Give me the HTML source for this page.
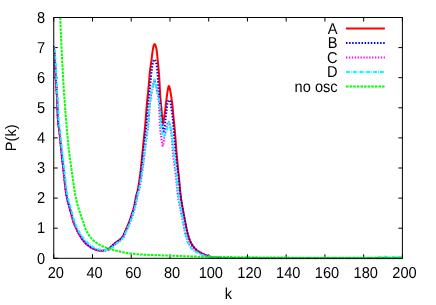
<!DOCTYPE html>
<html><head><meta charset="utf-8"><title>P(k)</title>
<style>
html,body{margin:0;padding:0;background:#fff;}
body{width:436px;height:305px;overflow:hidden;font-family:"Liberation Sans",sans-serif;}
svg{display:block;will-change:transform;}
</style></head><body>
<svg width="436" height="305" viewBox="0 0 436 305">
<rect width="436" height="305" fill="#fff"/>
<defs><clipPath id="c"><rect x="53.75" y="17.50" width="348.65" height="241.80"/></clipPath></defs>
<path d="M53.75,258.30v-4M53.75,17.50v4M92.49,258.30v-4M92.49,17.50v4M131.23,258.30v-4M131.23,17.50v4M169.97,258.30v-4M169.97,17.50v4M208.71,258.30v-4M208.71,17.50v4M247.44,258.30v-4M247.44,17.50v4M286.18,258.30v-4M286.18,17.50v4M324.92,258.30v-4M324.92,17.50v4M363.66,258.30v-4M363.66,17.50v4M402.40,258.30v-4M402.40,17.50v4M53.75,258.30h4M402.40,258.30h-4M53.75,228.20h4M402.40,228.20h-4M53.75,198.10h4M402.40,198.10h-4M53.75,168.00h4M402.40,168.00h-4M53.75,137.90h4M402.40,137.90h-4M53.75,107.80h4M402.40,107.80h-4M53.75,77.70h4M402.40,77.70h-4M53.75,47.60h4M402.40,47.60h-4M53.75,17.50h4M402.40,17.50h-4" stroke="#000" stroke-width="1" fill="none"/>
<g clip-path="url(#c)" fill="none" stroke-width="2" stroke-linejoin="round">
<path d="M53.75,46.30 L54.25,51.26 L54.75,57.81 L55.25,66.34 L55.75,77.19 L56.25,86.34 L56.75,92.88 L57.25,101.10 L57.75,116.95 L58.25,123.61 L58.75,126.92 L59.25,130.42 L59.75,134.92 L60.25,139.75 L60.75,144.71 L61.25,149.62 L61.75,154.34 L62.25,159.01 L62.75,163.64 L63.25,168.20 L63.75,172.68 L64.25,177.16 L64.75,181.83 L65.25,186.41 L65.75,190.62 L66.25,194.13 L66.75,196.83 L67.25,199.15 L67.75,201.19 L68.25,203.06 L68.75,204.82 L69.25,206.57 L69.75,208.39 L70.25,210.28 L70.75,212.20 L71.25,214.11 L71.75,215.98 L72.25,217.80 L72.75,219.53 L73.25,221.16 L73.75,222.65 L74.25,223.99 L74.75,225.24 L75.25,226.43 L75.75,227.57 L76.25,228.66 L76.75,229.71 L77.25,230.72 L77.75,231.68 L78.25,232.62 L78.75,233.52 L79.25,234.39 L79.75,235.24 L80.25,236.07 L80.75,236.88 L81.25,237.67 L81.75,238.42 L82.25,239.14 L82.75,239.83 L83.25,240.49 L83.75,241.10 L84.25,241.69 L84.75,242.25 L85.25,242.79 L85.75,243.31 L86.25,243.80 L86.75,244.25 L87.25,244.68 L87.75,245.08 L88.25,245.47 L88.75,245.84 L89.25,246.21 L89.75,246.57 L90.25,246.91 L90.75,247.24 L91.25,247.56 L91.75,247.86 L92.25,248.15 L92.75,248.41 L93.25,248.66 L93.75,248.89 L94.25,249.10 L94.75,249.31 L95.25,249.51 L95.75,249.69 L96.25,249.86 L96.75,250.02 L97.25,250.15 L97.75,250.26 L98.25,250.34 L98.75,250.42 L99.25,250.49 L99.75,250.56 L100.25,250.62 L100.75,250.66 L101.25,250.69 L101.75,250.70 L102.25,250.68 L102.75,250.65 L103.25,250.59 L103.75,250.52 L104.25,250.44 L104.75,250.35 L105.25,250.25 L105.75,250.11 L106.25,249.94 L106.75,249.74 L107.25,249.52 L107.75,249.28 L108.25,248.99 L108.75,248.67 L109.25,248.31 L109.75,247.91 L110.25,247.49 L110.75,247.05 L111.25,246.59 L111.75,246.12 L112.25,245.64 L112.75,245.16 L113.25,244.69 L113.75,244.23 L114.25,243.77 L114.75,243.34 L115.25,242.93 L115.75,242.55 L116.25,242.18 L116.75,241.82 L117.25,241.47 L117.75,241.12 L118.25,240.76 L118.75,240.39 L119.25,240.01 L119.75,239.60 L120.25,239.16 L120.75,238.70 L121.25,238.19 L121.75,237.64 L122.25,237.04 L122.75,236.29 L123.25,235.38 L123.75,234.36 L124.25,233.28 L124.75,232.21 L125.25,231.16 L125.75,230.07 L126.25,228.94 L126.75,227.79 L127.25,226.60 L127.75,225.39 L128.25,224.14 L128.75,222.84 L129.25,221.51 L129.75,220.14 L130.25,218.72 L130.75,217.25 L131.25,215.73 L131.75,214.17 L132.25,212.61 L132.75,211.07 L133.25,209.48 L133.75,207.74 L134.25,205.79 L134.75,203.32 L135.25,200.48 L135.75,197.69 L136.25,195.37 L136.75,193.55 L137.25,191.82 L137.75,189.77 L138.25,187.19 L138.75,184.22 L139.25,181.02 L139.75,177.52 L140.25,173.71 L140.75,169.57 L141.25,164.93 L141.75,159.85 L142.25,154.62 L142.75,149.50 L143.25,144.50 L143.75,139.50 L144.25,134.66 L144.75,129.80 L145.25,124.56 L145.75,118.38 L146.25,111.53 L146.75,105.13 L147.25,99.97 L147.75,95.40 L148.25,90.42 L148.75,84.86 L149.25,78.97 L149.75,72.98 L150.25,68.66 L150.75,65.16 L151.25,61.81 L151.75,58.01 L152.25,53.79 L152.75,50.10 L153.25,47.27 L153.75,45.38 L154.25,44.30 L154.75,44.06 L155.25,44.92 L155.75,46.17 L156.25,48.05 L156.75,50.76 L157.25,55.33 L157.75,60.49 L158.25,65.38 L158.75,70.79 L159.25,77.57 L159.75,87.06 L160.25,95.98 L160.75,101.70 L161.25,106.54 L161.75,112.24 L162.25,117.55 L162.75,123.01 L163.25,123.34 L163.75,119.26 L164.25,117.26 L164.75,113.88 L165.25,109.84 L165.75,105.41 L166.25,101.03 L166.75,97.05 L167.25,93.31 L167.75,90.08 L168.25,87.47 L168.75,86.03 L169.25,86.51 L169.75,88.24 L170.25,90.74 L170.75,93.50 L171.25,96.62 L171.75,100.06 L172.25,103.91 L172.75,108.52 L173.25,114.31 L173.75,119.65 L174.25,124.62 L174.75,129.77 L175.25,135.65 L175.75,142.29 L176.25,148.93 L176.75,154.87 L177.25,160.30 L177.75,165.52 L178.25,170.54 L178.75,175.50 L179.25,180.77 L179.75,186.28 L180.25,191.52 L180.75,196.00 L181.25,199.60 L181.75,202.74 L182.25,205.70 L182.75,208.62 L183.25,211.40 L183.75,214.11 L184.25,216.81 L184.75,219.55 L185.25,222.24 L185.75,224.80 L186.25,227.16 L186.75,229.45 L187.25,231.63 L187.75,233.66 L188.25,235.49 L188.75,237.12 L189.25,238.62 L189.75,239.97 L190.25,241.17 L190.75,242.23 L191.25,243.20 L191.75,244.09 L192.25,244.90 L192.75,245.65 L193.25,246.34 L193.75,246.99 L194.25,247.60 L194.75,248.18 L195.25,248.72 L195.75,249.22 L196.25,249.68 L196.75,250.11 L197.25,250.50 L197.75,250.87 L198.25,251.22 L198.75,251.55 L199.25,251.87 L199.75,252.17 L200.25,252.46 L200.75,252.74 L201.25,253.01 L201.75,253.28 L202.25,253.53 L202.75,253.78 L203.25,254.02 L203.75,254.25 L204.25,254.48 L204.75,254.69 L205.25,254.90 L205.75,255.10 L206.25,255.31 L206.75,255.51 L207.25,255.72 L207.75,255.92 L208.25,256.12 L208.75,256.31 L209.25,256.49 L209.75,256.66 L210.25,256.82 L210.75,256.95 L211.25,257.07 L211.75,257.16 L212.25,257.23 L212.75,257.30 L213.25,257.36 L213.75,257.42 L214.25,257.48 L214.75,257.53 L215.25,257.57 L215.75,257.62 L216.25,257.66 L216.75,257.69 L217.25,257.72 L217.75,257.75 L218.25,257.77 L218.75,257.79 L219.25,257.81 L219.75,257.82 L220.25,257.83 L220.75,257.85 L221.25,257.86 L221.75,257.87 L222.25,257.88 L222.75,257.89 L223.25,257.91 L223.75,257.92 L224.25,257.93 L224.75,257.94 L225.25,257.95 L225.75,257.96 L226.25,257.97 L226.75,257.98 L227.25,257.98 L227.75,257.99 L228.25,258.00 L228.75,258.01 L229.25,258.02 L229.75,258.02 L230.25,258.03 L230.75,258.04 L231.25,258.04 L231.75,258.05 L232.25,258.05 L232.75,258.06 L233.25,258.06 L233.75,258.07 L234.25,258.07 L234.75,258.08 L235.25,258.08 L235.75,258.08 L236.25,258.09 L236.75,258.09 L237.25,258.09 L237.75,258.09 L238.25,258.10 L238.75,258.10 L239.25,258.10 L239.75,258.10 L240.25,258.10 L240.75,258.10 L241.25,258.10 L241.75,258.10 L242.25,258.10 L242.75,258.10 L243.25,258.10 L243.75,258.11 L244.25,258.11 L244.75,258.11 L245.25,258.11 L245.75,258.11 L246.25,258.11 L246.75,258.11 L247.25,258.11 L247.75,258.11 L248.25,258.11 L248.75,258.11 L249.25,258.11 L249.75,258.11 L250.25,258.12 L250.75,258.12 L251.25,258.12 L251.75,258.12 L252.25,258.12 L252.75,258.12 L253.25,258.12 L253.75,258.12 L254.25,258.12 L254.75,258.12 L255.25,258.12 L255.75,258.12 L256.25,258.12 L256.75,258.12 L257.25,258.12 L257.75,258.13 L258.25,258.13 L258.75,258.13 L259.25,258.13 L259.75,258.13 L260.25,258.13 L260.75,258.13 L261.25,258.13 L261.75,258.13 L262.25,258.13 L262.75,258.13 L263.25,258.13 L263.75,258.13 L264.25,258.13 L264.75,258.13 L265.25,258.13 L265.75,258.13 L266.25,258.14 L266.75,258.14 L267.25,258.14 L267.75,258.14 L268.25,258.14 L268.75,258.14 L269.25,258.14 L269.75,258.14 L270.25,258.14 L270.75,258.14 L271.25,258.14 L271.75,258.14 L272.25,258.14 L272.75,258.14 L273.25,258.14 L273.75,258.14 L274.25,258.14 L274.75,258.14 L275.25,258.15 L275.75,258.15 L276.25,258.15 L276.75,258.15 L277.25,258.15 L277.75,258.15 L278.25,258.15 L278.75,258.15 L279.25,258.15 L279.75,258.15 L280.25,258.15 L280.75,258.15 L281.25,258.15 L281.75,258.15 L282.25,258.15 L282.75,258.15 L283.25,258.15 L283.75,258.15 L284.25,258.15 L284.75,258.15 L285.25,258.16 L285.75,258.16 L286.25,258.16 L286.75,258.16 L287.25,258.16 L287.75,258.16 L288.25,258.16 L288.75,258.16 L289.25,258.16 L289.75,258.16 L290.25,258.16 L290.75,258.16 L291.25,258.16 L291.75,258.16 L292.25,258.16 L292.75,258.16 L293.25,258.16 L293.75,258.16 L294.25,258.16 L294.75,258.16 L295.25,258.16 L295.75,258.16 L296.25,258.16 L296.75,258.17 L297.25,258.17 L297.75,258.17 L298.25,258.17 L298.75,258.17 L299.25,258.17 L299.75,258.17 L300.25,258.17 L300.75,258.17 L301.25,258.17 L301.75,258.17 L302.25,258.17 L302.75,258.17 L303.25,258.17 L303.75,258.17 L304.25,258.17 L304.75,258.17 L305.25,258.17 L305.75,258.17 L306.25,258.17 L306.75,258.17 L307.25,258.17 L307.75,258.17 L308.25,258.17 L308.75,258.17 L309.25,258.17 L309.75,258.17 L310.25,258.17 L310.75,258.18 L311.25,258.18 L311.75,258.18 L312.25,258.18 L312.75,258.18 L313.25,258.18 L313.75,258.18 L314.25,258.18 L314.75,258.18 L315.25,258.18 L315.75,258.18 L316.25,258.18 L316.75,258.18 L317.25,258.18 L317.75,258.18 L318.25,258.18 L318.75,258.18 L319.25,258.18 L319.75,258.18 L320.25,258.18 L320.75,258.18 L321.25,258.18 L321.75,258.18 L322.25,258.18 L322.75,258.18 L323.25,258.18 L323.75,258.18 L324.25,258.18 L324.75,258.18 L325.25,258.18 L325.75,258.18 L326.25,258.18 L326.75,258.18 L327.25,258.18 L327.75,258.18 L328.25,258.18 L328.75,258.19 L329.25,258.19 L329.75,258.19 L330.25,258.19 L330.75,258.19 L331.25,258.19 L331.75,258.19 L332.25,258.19 L332.75,258.19 L333.25,258.19 L333.75,258.19 L334.25,258.19 L334.75,258.19 L335.25,258.19 L335.75,258.19 L336.25,258.19 L336.75,258.19 L337.25,258.19 L337.75,258.19 L338.25,258.19 L338.75,258.19 L339.25,258.19 L339.75,258.19 L340.25,258.19 L340.75,258.19 L341.25,258.19 L341.75,258.19 L342.25,258.19 L342.75,258.19 L343.25,258.19 L343.75,258.19 L344.25,258.19 L344.75,258.19 L345.25,258.19 L345.75,258.19 L346.25,258.19 L346.75,258.19 L347.25,258.19 L347.75,258.19 L348.25,258.19 L348.75,258.19 L349.25,258.19 L349.75,258.19 L350.25,258.19 L350.75,258.19 L351.25,258.19 L351.75,258.19 L352.25,258.19 L352.75,258.19 L353.25,258.19 L353.75,258.19 L354.25,258.19 L354.75,258.19 L355.25,258.19 L355.75,258.19 L356.25,258.19 L356.75,258.19 L357.25,258.20 L357.75,258.20 L358.25,258.20 L358.75,258.20 L359.25,258.20 L359.75,258.20 L360.25,258.20 L360.75,258.20 L361.25,258.20 L361.75,258.20 L362.25,258.20 L362.75,258.20 L363.25,258.20 L363.75,258.20 L364.25,258.20 L364.75,258.20 L365.25,258.20 L365.75,258.20 L366.25,258.20 L366.75,258.20 L367.25,258.20 L367.75,258.20 L368.25,258.20 L368.75,258.20 L369.25,258.20 L369.75,258.20 L370.25,258.20 L370.75,258.20 L371.25,258.20 L371.75,258.20 L372.25,258.20 L372.75,258.20 L373.25,258.20 L373.75,258.20 L374.25,258.20 L374.75,258.20 L375.25,258.20 L375.75,258.20 L376.25,258.20 L376.75,258.20 L377.25,258.20 L377.75,258.20 L378.25,258.20 L378.75,258.20 L379.25,258.20 L379.75,258.20 L380.25,258.20 L380.75,258.20 L381.25,258.20 L381.75,258.20 L382.25,258.20 L382.75,258.20 L383.25,258.20 L383.75,258.20 L384.25,258.20 L384.75,258.20 L385.25,258.20 L385.75,258.20 L386.25,258.20 L386.75,258.20 L387.25,258.20 L387.75,258.20 L388.25,258.20 L388.75,258.20 L389.25,258.20 L389.75,258.20 L390.25,258.20 L390.75,258.20 L391.25,258.20 L391.75,258.20 L392.25,258.20 L392.75,258.20 L393.25,258.20 L393.75,258.20 L394.25,258.20 L394.75,258.20 L395.25,258.20 L395.75,258.20 L396.25,258.20 L396.75,258.20 L397.25,258.20 L397.75,258.20 L398.25,258.20 L398.75,258.20 L399.25,258.20 L399.75,258.20 L400.25,258.20 L400.75,258.20 L401.25,258.20 L401.75,258.20 L402.25,258.20 L402.40,258.20" stroke="#ff0000"/>
<path d="M53.75,46.30 L54.25,51.26 L54.75,57.81 L55.25,66.34 L55.75,77.19 L56.25,86.34 L56.75,92.88 L57.25,101.10 L57.75,116.95 L58.25,123.61 L58.75,126.92 L59.25,130.42 L59.75,134.92 L60.25,139.75 L60.75,144.71 L61.25,149.62 L61.75,154.34 L62.25,159.01 L62.75,163.64 L63.25,168.20 L63.75,172.68 L64.25,177.16 L64.75,181.83 L65.25,186.41 L65.75,190.62 L66.25,194.13 L66.75,196.83 L67.25,199.15 L67.75,201.19 L68.25,203.06 L68.75,204.82 L69.25,206.57 L69.75,208.39 L70.25,210.28 L70.75,212.20 L71.25,214.11 L71.75,215.98 L72.25,217.80 L72.75,219.53 L73.25,221.16 L73.75,222.65 L74.25,223.99 L74.75,225.24 L75.25,226.43 L75.75,227.57 L76.25,228.66 L76.75,229.71 L77.25,230.72 L77.75,231.68 L78.25,232.62 L78.75,233.52 L79.25,234.39 L79.75,235.24 L80.25,236.07 L80.75,236.88 L81.25,237.67 L81.75,238.42 L82.25,239.14 L82.75,239.83 L83.25,240.49 L83.75,241.10 L84.25,241.69 L84.75,242.25 L85.25,242.79 L85.75,243.31 L86.25,243.80 L86.75,244.25 L87.25,244.68 L87.75,245.08 L88.25,245.47 L88.75,245.84 L89.25,246.21 L89.75,246.57 L90.25,246.91 L90.75,247.24 L91.25,247.56 L91.75,247.86 L92.25,248.15 L92.75,248.41 L93.25,248.66 L93.75,248.89 L94.25,249.10 L94.75,249.31 L95.25,249.51 L95.75,249.69 L96.25,249.86 L96.75,250.02 L97.25,250.15 L97.75,250.26 L98.25,250.34 L98.75,250.42 L99.25,250.49 L99.75,250.56 L100.25,250.62 L100.75,250.66 L101.25,250.69 L101.75,250.70 L102.25,250.68 L102.75,250.65 L103.25,250.59 L103.75,250.52 L104.25,250.44 L104.75,250.35 L105.25,250.25 L105.75,250.11 L106.25,249.94 L106.75,249.74 L107.25,249.52 L107.75,249.28 L108.25,248.99 L108.75,248.67 L109.25,248.30 L109.75,247.91 L110.25,247.49 L110.75,247.04 L111.25,246.58 L111.75,246.11 L112.25,245.64 L112.75,245.16 L113.25,244.69 L113.75,244.22 L114.25,243.77 L114.75,243.34 L115.25,242.94 L115.75,242.55 L116.25,242.19 L116.75,241.83 L117.25,241.48 L117.75,241.14 L118.25,240.79 L118.75,240.42 L119.25,240.05 L119.75,239.65 L120.25,239.22 L120.75,238.77 L121.25,238.28 L121.75,237.74 L122.25,237.16 L122.75,236.47 L123.25,235.60 L123.75,234.62 L124.25,233.58 L124.75,232.52 L125.25,231.49 L125.75,230.43 L126.25,229.34 L126.75,228.22 L127.25,227.07 L127.75,225.88 L128.25,224.64 L128.75,223.36 L129.25,222.03 L129.75,220.68 L130.25,219.32 L130.75,217.93 L131.25,216.52 L131.75,215.06 L132.25,213.55 L132.75,212.01 L133.25,210.44 L133.75,208.79 L134.25,206.98 L134.75,204.92 L135.25,202.40 L135.75,199.70 L136.25,197.14 L136.75,194.99 L137.25,193.20 L137.75,191.42 L138.25,189.32 L138.75,186.84 L139.25,184.07 L139.75,181.07 L140.25,177.77 L140.75,174.18 L141.25,170.39 L141.75,166.38 L142.25,162.10 L142.75,157.65 L143.25,153.14 L143.75,148.65 L144.25,144.10 L144.75,139.55 L145.25,135.23 L145.75,130.97 L146.25,126.45 L146.75,121.31 L147.25,115.28 L147.75,109.08 L148.25,103.49 L148.75,98.78 L149.25,94.33 L149.75,89.55 L150.25,84.52 L150.75,79.43 L151.25,74.28 L151.75,69.89 L152.25,66.04 L152.75,63.31 L153.25,61.38 L153.75,60.23 L154.25,59.52 L154.75,59.52 L155.25,60.23 L155.75,61.36 L156.25,63.29 L156.75,66.16 L157.25,70.50 L157.75,76.34 L158.25,84.36 L158.75,92.58 L159.25,97.07 L159.75,101.45 L160.25,106.54 L160.75,111.40 L161.25,115.92 L161.75,120.01 L162.25,123.82 L162.75,126.84 L163.25,129.63 L163.75,131.38 L164.25,130.25 L164.75,126.37 L165.25,122.19 L165.75,117.55 L166.25,113.06 L166.75,108.67 L167.25,104.38 L167.75,102.01 L168.25,100.72 L168.75,100.10 L169.25,100.10 L169.75,100.72 L170.25,101.94 L170.75,103.98 L171.25,107.41 L171.75,110.97 L172.25,114.10 L172.75,118.48 L173.25,124.83 L173.75,131.41 L174.25,137.24 L174.75,142.93 L175.25,148.38 L175.75,153.50 L176.25,158.31 L176.75,162.84 L177.25,167.05 L177.75,170.87 L178.25,174.75 L178.75,179.20 L179.25,184.22 L179.75,189.32 L180.25,193.99 L180.75,197.80 L181.25,201.04 L181.75,204.00 L182.25,206.85 L182.75,209.55 L183.25,212.14 L183.75,214.70 L184.25,217.33 L184.75,220.05 L185.25,222.75 L185.75,225.29 L186.25,227.63 L186.75,229.89 L187.25,232.05 L187.75,234.04 L188.25,235.83 L188.75,237.43 L189.25,238.90 L189.75,240.22 L190.25,241.39 L190.75,242.43 L191.25,243.38 L191.75,244.26 L192.25,245.06 L192.75,245.79 L193.25,246.47 L193.75,247.11 L194.25,247.72 L194.75,248.29 L195.25,248.82 L195.75,249.32 L196.25,249.77 L196.75,250.19 L197.25,250.58 L197.75,250.95 L198.25,251.29 L198.75,251.62 L199.25,251.93 L199.75,252.23 L200.25,252.52 L200.75,252.80 L201.25,253.07 L201.75,253.33 L202.25,253.59 L202.75,253.83 L203.25,254.07 L203.75,254.30 L204.25,254.52 L204.75,254.74 L205.25,254.94 L205.75,255.14 L206.25,255.34 L206.75,255.55 L207.25,255.75 L207.75,255.95 L208.25,256.15 L208.75,256.33 L209.25,256.51 L209.75,256.67 L210.25,256.82 L210.75,256.96 L211.25,257.07 L211.75,257.16 L212.25,257.23 L212.75,257.30 L213.25,257.36 L213.75,257.42 L214.25,257.47 L214.75,257.53 L215.25,257.57 L215.75,257.62 L216.25,257.66 L216.75,257.69 L217.25,257.72 L217.75,257.75 L218.25,257.77 L218.75,257.79 L219.25,257.81 L219.75,257.82 L220.25,257.83 L220.75,257.85 L221.25,257.86 L221.75,257.87 L222.25,257.88 L222.75,257.89 L223.25,257.91 L223.75,257.92 L224.25,257.93 L224.75,257.94 L225.25,257.95 L225.75,257.96 L226.25,257.97 L226.75,257.98 L227.25,257.98 L227.75,257.99 L228.25,258.00 L228.75,258.01 L229.25,258.02 L229.75,258.02 L230.25,258.03 L230.75,258.04 L231.25,258.04 L231.75,258.05 L232.25,258.05 L232.75,258.06 L233.25,258.06 L233.75,258.07 L234.25,258.07 L234.75,258.08 L235.25,258.08 L235.75,258.08 L236.25,258.09 L236.75,258.09 L237.25,258.09 L237.75,258.09 L238.25,258.10 L238.75,258.10 L239.25,258.10 L239.75,258.10 L240.25,258.10 L240.75,258.10 L241.25,258.10 L241.75,258.10 L242.25,258.10 L242.75,258.10 L243.25,258.10 L243.75,258.11 L244.25,258.11 L244.75,258.11 L245.25,258.11 L245.75,258.11 L246.25,258.11 L246.75,258.11 L247.25,258.11 L247.75,258.11 L248.25,258.11 L248.75,258.11 L249.25,258.11 L249.75,258.11 L250.25,258.12 L250.75,258.12 L251.25,258.12 L251.75,258.12 L252.25,258.12 L252.75,258.12 L253.25,258.12 L253.75,258.12 L254.25,258.12 L254.75,258.12 L255.25,258.12 L255.75,258.12 L256.25,258.12 L256.75,258.12 L257.25,258.12 L257.75,258.13 L258.25,258.13 L258.75,258.13 L259.25,258.13 L259.75,258.13 L260.25,258.13 L260.75,258.13 L261.25,258.13 L261.75,258.13 L262.25,258.13 L262.75,258.13 L263.25,258.13 L263.75,258.13 L264.25,258.13 L264.75,258.13 L265.25,258.13 L265.75,258.13 L266.25,258.14 L266.75,258.14 L267.25,258.14 L267.75,258.14 L268.25,258.14 L268.75,258.14 L269.25,258.14 L269.75,258.14 L270.25,258.14 L270.75,258.14 L271.25,258.14 L271.75,258.14 L272.25,258.14 L272.75,258.14 L273.25,258.14 L273.75,258.14 L274.25,258.14 L274.75,258.14 L275.25,258.15 L275.75,258.15 L276.25,258.15 L276.75,258.15 L277.25,258.15 L277.75,258.15 L278.25,258.15 L278.75,258.15 L279.25,258.15 L279.75,258.15 L280.25,258.15 L280.75,258.15 L281.25,258.15 L281.75,258.15 L282.25,258.15 L282.75,258.15 L283.25,258.15 L283.75,258.15 L284.25,258.15 L284.75,258.15 L285.25,258.16 L285.75,258.16 L286.25,258.16 L286.75,258.16 L287.25,258.16 L287.75,258.16 L288.25,258.16 L288.75,258.16 L289.25,258.16 L289.75,258.16 L290.25,258.16 L290.75,258.16 L291.25,258.16 L291.75,258.16 L292.25,258.16 L292.75,258.16 L293.25,258.16 L293.75,258.16 L294.25,258.16 L294.75,258.16 L295.25,258.16 L295.75,258.16 L296.25,258.16 L296.75,258.17 L297.25,258.17 L297.75,258.17 L298.25,258.17 L298.75,258.17 L299.25,258.17 L299.75,258.17 L300.25,258.17 L300.75,258.17 L301.25,258.17 L301.75,258.17 L302.25,258.17 L302.75,258.17 L303.25,258.17 L303.75,258.17 L304.25,258.17 L304.75,258.17 L305.25,258.17 L305.75,258.17 L306.25,258.17 L306.75,258.17 L307.25,258.17 L307.75,258.17 L308.25,258.17 L308.75,258.17 L309.25,258.17 L309.75,258.17 L310.25,258.17 L310.75,258.18 L311.25,258.18 L311.75,258.18 L312.25,258.18 L312.75,258.18 L313.25,258.18 L313.75,258.18 L314.25,258.18 L314.75,258.18 L315.25,258.18 L315.75,258.18 L316.25,258.18 L316.75,258.18 L317.25,258.18 L317.75,258.18 L318.25,258.18 L318.75,258.18 L319.25,258.18 L319.75,258.18 L320.25,258.18 L320.75,258.18 L321.25,258.18 L321.75,258.18 L322.25,258.18 L322.75,258.18 L323.25,258.18 L323.75,258.18 L324.25,258.18 L324.75,258.18 L325.25,258.18 L325.75,258.18 L326.25,258.18 L326.75,258.18 L327.25,258.18 L327.75,258.18 L328.25,258.18 L328.75,258.19 L329.25,258.19 L329.75,258.19 L330.25,258.19 L330.75,258.19 L331.25,258.19 L331.75,258.19 L332.25,258.19 L332.75,258.19 L333.25,258.19 L333.75,258.19 L334.25,258.19 L334.75,258.19 L335.25,258.19 L335.75,258.19 L336.25,258.19 L336.75,258.19 L337.25,258.19 L337.75,258.19 L338.25,258.19 L338.75,258.19 L339.25,258.19 L339.75,258.19 L340.25,258.19 L340.75,258.19 L341.25,258.19 L341.75,258.19 L342.25,258.19 L342.75,258.19 L343.25,258.19 L343.75,258.19 L344.25,258.19 L344.75,258.19 L345.25,258.19 L345.75,258.19 L346.25,258.19 L346.75,258.19 L347.25,258.19 L347.75,258.19 L348.25,258.19 L348.75,258.19 L349.25,258.19 L349.75,258.19 L350.25,258.19 L350.75,258.19 L351.25,258.19 L351.75,258.19 L352.25,258.19 L352.75,258.19 L353.25,258.19 L353.75,258.19 L354.25,258.19 L354.75,258.19 L355.25,258.19 L355.75,258.19 L356.25,258.19 L356.75,258.19 L357.25,258.20 L357.75,258.20 L358.25,258.20 L358.75,258.20 L359.25,258.20 L359.75,258.20 L360.25,258.20 L360.75,258.20 L361.25,258.20 L361.75,258.20 L362.25,258.20 L362.75,258.20 L363.25,258.20 L363.75,258.20 L364.25,258.20 L364.75,258.20 L365.25,258.20 L365.75,258.20 L366.25,258.20 L366.75,258.20 L367.25,258.20 L367.75,258.20 L368.25,258.20 L368.75,258.20 L369.25,258.20 L369.75,258.20 L370.25,258.20 L370.75,258.20 L371.25,258.20 L371.75,258.20 L372.25,258.20 L372.75,258.20 L373.25,258.20 L373.75,258.20 L374.25,258.20 L374.75,258.20 L375.25,258.20 L375.75,258.20 L376.25,258.20 L376.75,258.20 L377.25,258.20 L377.75,258.20 L378.25,258.20 L378.75,258.20 L379.25,258.20 L379.75,258.20 L380.25,258.20 L380.75,258.20 L381.25,258.20 L381.75,258.20 L382.25,258.20 L382.75,258.20 L383.25,258.20 L383.75,258.20 L384.25,258.20 L384.75,258.20 L385.25,258.20 L385.75,258.20 L386.25,258.20 L386.75,258.20 L387.25,258.20 L387.75,258.20 L388.25,258.20 L388.75,258.20 L389.25,258.20 L389.75,258.20 L390.25,258.20 L390.75,258.20 L391.25,258.20 L391.75,258.20 L392.25,258.20 L392.75,258.20 L393.25,258.20 L393.75,258.20 L394.25,258.20 L394.75,258.20 L395.25,258.20 L395.75,258.20 L396.25,258.20 L396.75,258.20 L397.25,258.20 L397.75,258.20 L398.25,258.20 L398.75,258.20 L399.25,258.20 L399.75,258.20 L400.25,258.20 L400.75,258.20 L401.25,258.20 L401.75,258.20 L402.25,258.20 L402.40,258.20" stroke="#0000ff" stroke-dasharray="1.5 1.6"/>
<path d="M53.75,46.30 L54.25,51.26 L54.75,57.81 L55.25,66.34 L55.75,77.19 L56.25,86.34 L56.75,92.88 L57.25,101.10 L57.75,116.95 L58.25,123.61 L58.75,126.92 L59.25,130.42 L59.75,134.92 L60.25,139.75 L60.75,144.71 L61.25,149.62 L61.75,154.34 L62.25,159.01 L62.75,163.64 L63.25,168.20 L63.75,172.68 L64.25,177.16 L64.75,181.83 L65.25,186.41 L65.75,190.62 L66.25,194.13 L66.75,196.83 L67.25,199.15 L67.75,201.19 L68.25,203.06 L68.75,204.82 L69.25,206.57 L69.75,208.39 L70.25,210.28 L70.75,212.20 L71.25,214.11 L71.75,215.98 L72.25,217.80 L72.75,219.53 L73.25,221.16 L73.75,222.65 L74.25,223.99 L74.75,225.24 L75.25,226.43 L75.75,227.57 L76.25,228.66 L76.75,229.71 L77.25,230.72 L77.75,231.68 L78.25,232.62 L78.75,233.52 L79.25,234.39 L79.75,235.24 L80.25,236.07 L80.75,236.88 L81.25,237.67 L81.75,238.42 L82.25,239.14 L82.75,239.83 L83.25,240.49 L83.75,241.10 L84.25,241.69 L84.75,242.25 L85.25,242.79 L85.75,243.31 L86.25,243.80 L86.75,244.25 L87.25,244.68 L87.75,245.08 L88.25,245.47 L88.75,245.84 L89.25,246.21 L89.75,246.57 L90.25,246.91 L90.75,247.24 L91.25,247.56 L91.75,247.86 L92.25,248.15 L92.75,248.41 L93.25,248.66 L93.75,248.89 L94.25,249.10 L94.75,249.31 L95.25,249.51 L95.75,249.69 L96.25,249.86 L96.75,250.02 L97.25,250.15 L97.75,250.26 L98.25,250.34 L98.75,250.42 L99.25,250.49 L99.75,250.56 L100.25,250.62 L100.75,250.66 L101.25,250.69 L101.75,250.70 L102.25,250.69 L102.75,250.68 L103.25,250.66 L103.75,250.64 L104.25,250.61 L104.75,250.57 L105.25,250.53 L105.75,250.49 L106.25,250.42 L106.75,250.32 L107.25,250.21 L107.75,250.07 L108.25,249.92 L108.75,249.73 L109.25,249.49 L109.75,249.20 L110.25,248.86 L110.75,248.48 L111.25,248.07 L111.75,247.63 L112.25,247.18 L112.75,246.71 L113.25,246.23 L113.75,245.75 L114.25,245.28 L114.75,244.82 L115.25,244.38 L115.75,243.96 L116.25,243.57 L116.75,243.20 L117.25,242.84 L117.75,242.50 L118.25,242.16 L118.75,241.82 L119.25,241.47 L119.75,241.11 L120.25,240.73 L120.75,240.33 L121.25,239.90 L121.75,239.43 L122.25,238.92 L122.75,238.37 L123.25,237.76 L123.75,237.01 L124.25,236.04 L124.75,234.92 L125.25,233.73 L125.75,232.56 L126.25,231.46 L126.75,230.38 L127.25,229.30 L127.75,228.20 L128.25,227.06 L128.75,225.88 L129.25,224.64 L129.75,223.36 L130.25,222.03 L130.75,220.68 L131.25,219.32 L131.75,217.93 L132.25,216.52 L132.75,215.06 L133.25,213.55 L133.75,212.01 L134.25,210.44 L134.75,208.79 L135.25,206.98 L135.75,204.91 L136.25,202.38 L136.75,199.66 L137.25,197.11 L137.75,195.03 L138.25,193.35 L138.75,191.72 L139.25,189.78 L139.75,187.38 L140.25,184.63 L140.75,181.70 L141.25,178.60 L141.75,175.28 L142.25,171.80 L142.75,168.16 L143.25,164.31 L143.75,160.30 L144.25,156.19 L144.75,152.05 L145.25,147.92 L145.75,143.68 L146.25,139.61 L146.75,136.04 L147.25,132.74 L147.75,129.32 L148.25,125.35 L148.75,120.10 L149.25,113.24 L149.75,106.62 L150.25,101.83 L150.75,97.98 L151.25,94.66 L151.75,91.72 L152.25,89.20 L152.75,86.93 L153.25,84.53 L153.75,81.98 L154.25,80.26 L154.75,80.54 L155.25,82.36 L155.75,84.65 L156.25,86.98 L156.75,89.31 L157.25,91.74 L157.75,94.23 L158.25,96.98 L158.75,100.91 L159.25,110.68 L159.75,122.60 L160.25,129.47 L160.75,133.98 L161.25,137.42 L161.75,140.53 L162.25,143.27 L162.75,145.83 L163.25,145.23 L163.75,141.69 L164.25,138.26 L164.75,135.15 L165.25,132.55 L165.75,130.22 L166.25,128.02 L166.75,125.99 L167.25,124.36 L167.75,122.86 L168.25,121.77 L168.75,121.69 L169.25,122.33 L169.75,123.41 L170.25,125.84 L170.75,128.97 L171.25,132.83 L171.75,137.49 L172.25,143.33 L172.75,151.37 L173.25,156.44 L173.75,160.27 L174.25,163.84 L174.75,167.73 L175.25,171.55 L175.75,175.57 L176.25,180.21 L176.75,185.37 L177.25,190.47 L177.75,194.89 L178.25,198.28 L178.75,201.12 L179.25,203.69 L179.75,206.26 L180.25,208.81 L180.75,211.28 L181.25,213.74 L181.75,216.26 L182.25,218.91 L182.75,221.62 L183.25,224.26 L183.75,226.72 L184.25,229.11 L184.75,231.44 L185.25,233.60 L185.75,235.49 L186.25,237.10 L186.75,238.52 L187.25,239.81 L187.75,240.96 L188.25,242.02 L188.75,243.00 L189.25,243.91 L189.75,244.74 L190.25,245.51 L190.75,246.20 L191.25,246.85 L191.75,247.46 L192.25,248.04 L192.75,248.57 L193.25,249.07 L193.75,249.53 L194.25,249.94 L194.75,250.32 L195.25,250.67 L195.75,250.99 L196.25,251.30 L196.75,251.59 L197.25,251.87 L197.75,252.14 L198.25,252.41 L198.75,252.68 L199.25,252.95 L199.75,253.22 L200.25,253.48 L200.75,253.74 L201.25,253.99 L201.75,254.24 L202.25,254.46 L202.75,254.68 L203.25,254.87 L203.75,255.05 L204.25,255.22 L204.75,255.39 L205.25,255.56 L205.75,255.72 L206.25,255.88 L206.75,256.03 L207.25,256.18 L207.75,256.32 L208.25,256.45 L208.75,256.58 L209.25,256.70 L209.75,256.81 L210.25,256.91 L210.75,257.01 L211.25,257.09 L211.75,257.17 L212.25,257.23 L212.75,257.29 L213.25,257.35 L213.75,257.41 L214.25,257.46 L214.75,257.52 L215.25,257.56 L215.75,257.61 L216.25,257.65 L216.75,257.69 L217.25,257.72 L217.75,257.75 L218.25,257.77 L218.75,257.79 L219.25,257.81 L219.75,257.82 L220.25,257.83 L220.75,257.85 L221.25,257.86 L221.75,257.87 L222.25,257.88 L222.75,257.89 L223.25,257.91 L223.75,257.92 L224.25,257.93 L224.75,257.94 L225.25,257.95 L225.75,257.96 L226.25,257.97 L226.75,257.98 L227.25,257.98 L227.75,257.99 L228.25,258.00 L228.75,258.01 L229.25,258.02 L229.75,258.02 L230.25,258.03 L230.75,258.04 L231.25,258.04 L231.75,258.05 L232.25,258.05 L232.75,258.06 L233.25,258.06 L233.75,258.07 L234.25,258.07 L234.75,258.08 L235.25,258.08 L235.75,258.08 L236.25,258.09 L236.75,258.09 L237.25,258.09 L237.75,258.09 L238.25,258.10 L238.75,258.10 L239.25,258.10 L239.75,258.10 L240.25,258.10 L240.75,258.10 L241.25,258.10 L241.75,258.10 L242.25,258.10 L242.75,258.10 L243.25,258.10 L243.75,258.11 L244.25,258.11 L244.75,258.11 L245.25,258.11 L245.75,258.11 L246.25,258.11 L246.75,258.11 L247.25,258.11 L247.75,258.11 L248.25,258.11 L248.75,258.11 L249.25,258.11 L249.75,258.11 L250.25,258.12 L250.75,258.12 L251.25,258.12 L251.75,258.12 L252.25,258.12 L252.75,258.12 L253.25,258.12 L253.75,258.12 L254.25,258.12 L254.75,258.12 L255.25,258.12 L255.75,258.12 L256.25,258.12 L256.75,258.12 L257.25,258.12 L257.75,258.13 L258.25,258.13 L258.75,258.13 L259.25,258.13 L259.75,258.13 L260.25,258.13 L260.75,258.13 L261.25,258.13 L261.75,258.13 L262.25,258.13 L262.75,258.13 L263.25,258.13 L263.75,258.13 L264.25,258.13 L264.75,258.13 L265.25,258.13 L265.75,258.13 L266.25,258.14 L266.75,258.14 L267.25,258.14 L267.75,258.14 L268.25,258.14 L268.75,258.14 L269.25,258.14 L269.75,258.14 L270.25,258.14 L270.75,258.14 L271.25,258.14 L271.75,258.14 L272.25,258.14 L272.75,258.14 L273.25,258.14 L273.75,258.14 L274.25,258.14 L274.75,258.14 L275.25,258.15 L275.75,258.15 L276.25,258.15 L276.75,258.15 L277.25,258.15 L277.75,258.15 L278.25,258.15 L278.75,258.15 L279.25,258.15 L279.75,258.15 L280.25,258.15 L280.75,258.15 L281.25,258.15 L281.75,258.15 L282.25,258.15 L282.75,258.15 L283.25,258.15 L283.75,258.15 L284.25,258.15 L284.75,258.15 L285.25,258.16 L285.75,258.16 L286.25,258.16 L286.75,258.16 L287.25,258.16 L287.75,258.16 L288.25,258.16 L288.75,258.16 L289.25,258.16 L289.75,258.16 L290.25,258.16 L290.75,258.16 L291.25,258.16 L291.75,258.16 L292.25,258.16 L292.75,258.16 L293.25,258.16 L293.75,258.16 L294.25,258.16 L294.75,258.16 L295.25,258.16 L295.75,258.16 L296.25,258.16 L296.75,258.17 L297.25,258.17 L297.75,258.17 L298.25,258.17 L298.75,258.17 L299.25,258.17 L299.75,258.17 L300.25,258.17 L300.75,258.17 L301.25,258.17 L301.75,258.17 L302.25,258.17 L302.75,258.17 L303.25,258.17 L303.75,258.17 L304.25,258.17 L304.75,258.17 L305.25,258.17 L305.75,258.17 L306.25,258.17 L306.75,258.17 L307.25,258.17 L307.75,258.17 L308.25,258.17 L308.75,258.17 L309.25,258.17 L309.75,258.17 L310.25,258.17 L310.75,258.18 L311.25,258.18 L311.75,258.18 L312.25,258.18 L312.75,258.18 L313.25,258.18 L313.75,258.18 L314.25,258.18 L314.75,258.18 L315.25,258.18 L315.75,258.18 L316.25,258.18 L316.75,258.18 L317.25,258.18 L317.75,258.18 L318.25,258.18 L318.75,258.18 L319.25,258.18 L319.75,258.18 L320.25,258.18 L320.75,258.18 L321.25,258.18 L321.75,258.18 L322.25,258.18 L322.75,258.18 L323.25,258.18 L323.75,258.18 L324.25,258.18 L324.75,258.18 L325.25,258.18 L325.75,258.18 L326.25,258.18 L326.75,258.18 L327.25,258.18 L327.75,258.18 L328.25,258.18 L328.75,258.19 L329.25,258.19 L329.75,258.19 L330.25,258.19 L330.75,258.19 L331.25,258.19 L331.75,258.19 L332.25,258.19 L332.75,258.19 L333.25,258.19 L333.75,258.19 L334.25,258.19 L334.75,258.19 L335.25,258.19 L335.75,258.19 L336.25,258.19 L336.75,258.19 L337.25,258.19 L337.75,258.19 L338.25,258.19 L338.75,258.19 L339.25,258.19 L339.75,258.19 L340.25,258.19 L340.75,258.19 L341.25,258.19 L341.75,258.19 L342.25,258.19 L342.75,258.19 L343.25,258.19 L343.75,258.19 L344.25,258.19 L344.75,258.19 L345.25,258.19 L345.75,258.19 L346.25,258.19 L346.75,258.19 L347.25,258.19 L347.75,258.19 L348.25,258.19 L348.75,258.19 L349.25,258.19 L349.75,258.19 L350.25,258.19 L350.75,258.19 L351.25,258.19 L351.75,258.19 L352.25,258.19 L352.75,258.19 L353.25,258.19 L353.75,258.19 L354.25,258.19 L354.75,258.19 L355.25,258.19 L355.75,258.19 L356.25,258.19 L356.75,258.19 L357.25,258.20 L357.75,258.20 L358.25,258.20 L358.75,258.20 L359.25,258.20 L359.75,258.20 L360.25,258.20 L360.75,258.20 L361.25,258.20 L361.75,258.20 L362.25,258.20 L362.75,258.20 L363.25,258.20 L363.75,258.20 L364.25,258.20 L364.75,258.20 L365.25,258.20 L365.75,258.20 L366.25,258.20 L366.75,258.20 L367.25,258.20 L367.75,258.20 L368.25,258.20 L368.75,258.20 L369.25,258.20 L369.75,258.20 L370.25,258.20 L370.75,258.20 L371.25,258.20 L371.75,258.20 L372.25,258.20 L372.75,258.20 L373.25,258.20 L373.75,258.20 L374.25,258.20 L374.75,258.20 L375.25,258.20 L375.75,258.20 L376.25,258.20 L376.75,258.20 L377.25,258.20 L377.75,258.20 L378.25,258.20 L378.75,258.20 L379.25,258.20 L379.75,258.20 L380.25,258.20 L380.75,258.20 L381.25,258.20 L381.75,258.20 L382.25,258.20 L382.75,258.20 L383.25,258.20 L383.75,258.20 L384.25,258.20 L384.75,258.20 L385.25,258.20 L385.75,258.20 L386.25,258.20 L386.75,258.20 L387.25,258.20 L387.75,258.20 L388.25,258.20 L388.75,258.20 L389.25,258.20 L389.75,258.20 L390.25,258.20 L390.75,258.20 L391.25,258.20 L391.75,258.20 L392.25,258.20 L392.75,258.20 L393.25,258.20 L393.75,258.20 L394.25,258.20 L394.75,258.20 L395.25,258.20 L395.75,258.20 L396.25,258.20 L396.75,258.20 L397.25,258.20 L397.75,258.20 L398.25,258.20 L398.75,258.20 L399.25,258.20 L399.75,258.20 L400.25,258.20 L400.75,258.20 L401.25,258.20 L401.75,258.20 L402.25,258.20 L402.40,258.20" stroke="#ff00ff" stroke-dasharray="1.35 1.55"/>
<path d="M53.75,45.90 L54.25,47.74 L54.75,51.74 L55.25,57.08 L55.75,63.85 L56.25,74.70 L56.75,84.83 L57.25,91.99 L57.75,99.17 L58.25,109.48 L58.75,119.36 L59.25,124.33 L59.75,127.98 L60.25,132.26 L60.75,136.99 L61.25,141.89 L61.75,146.79 L62.25,151.54 L62.75,156.10 L63.25,160.58 L63.75,164.99 L64.25,169.32 L64.75,173.58 L65.25,177.92 L65.75,182.41 L66.25,186.79 L66.75,190.80 L67.25,194.16 L67.75,196.77 L68.25,199.03 L68.75,201.03 L69.25,202.85 L69.75,204.56 L70.25,206.26 L70.75,208.02 L71.25,209.86 L71.75,211.73 L72.25,213.61 L72.75,215.47 L73.25,217.27 L73.75,219.00 L74.25,220.63 L74.75,222.13 L75.25,223.48 L75.75,224.69 L76.25,225.86 L76.75,226.97 L77.25,228.03 L77.75,229.05 L78.25,230.02 L78.75,230.96 L79.25,231.86 L79.75,232.72 L80.25,233.55 L80.75,234.35 L81.25,235.13 L81.75,235.88 L82.25,236.62 L82.75,237.31 L83.25,237.97 L83.75,238.60 L84.25,239.19 L84.75,239.77 L85.25,240.33 L85.75,240.87 L86.25,241.40 L86.75,241.92 L87.25,242.42 L87.75,242.91 L88.25,243.36 L88.75,243.80 L89.25,244.20 L89.75,244.60 L90.25,244.99 L90.75,245.37 L91.25,245.73 L91.75,246.09 L92.25,246.44 L92.75,246.76 L93.25,247.07 L93.75,247.36 L94.25,247.64 L94.75,247.88 L95.25,248.11 L95.75,248.33 L96.25,248.54 L96.75,248.73 L97.25,248.91 L97.75,249.08 L98.25,249.22 L98.75,249.35 L99.25,249.45 L99.75,249.55 L100.25,249.64 L100.75,249.72 L101.25,249.80 L101.75,249.85 L102.25,249.89 L102.75,249.92 L103.25,249.94 L103.75,249.96 L104.25,249.98 L104.75,249.99 L105.25,250.00 L105.75,250.00 L106.25,249.98 L106.75,249.93 L107.25,249.85 L107.75,249.75 L108.25,249.63 L108.75,249.50 L109.25,249.31 L109.75,249.05 L110.25,248.74 L110.75,248.39 L111.25,248.00 L111.75,247.58 L112.25,247.14 L112.75,246.68 L113.25,246.21 L113.75,245.74 L114.25,245.27 L114.75,244.81 L115.25,244.37 L115.75,243.96 L116.25,243.57 L116.75,243.20 L117.25,242.85 L117.75,242.50 L118.25,242.16 L118.75,241.81 L119.25,241.45 L119.75,241.08 L120.25,240.69 L120.75,240.28 L121.25,239.83 L121.75,239.35 L122.25,238.83 L122.75,238.26 L123.25,237.63 L123.75,236.83 L124.25,235.82 L124.75,234.68 L125.25,233.49 L125.75,232.33 L126.25,231.24 L126.75,230.17 L127.25,229.08 L127.75,227.97 L128.25,226.83 L128.75,225.64 L129.25,224.40 L129.75,223.11 L130.25,221.78 L130.75,220.42 L131.25,219.01 L131.75,217.55 L132.25,216.04 L132.75,214.49 L133.25,212.92 L133.75,211.36 L134.25,209.77 L134.75,208.08 L135.25,206.20 L135.75,203.95 L136.25,201.33 L136.75,198.64 L137.25,196.22 L137.75,194.25 L138.25,192.51 L138.75,190.64 L139.25,188.35 L139.75,185.70 L140.25,182.86 L140.75,179.96 L141.25,176.92 L141.75,173.73 L142.25,170.35 L142.75,166.71 L143.25,162.80 L143.75,158.71 L144.25,154.55 L144.75,150.41 L145.25,146.22 L145.75,142.01 L146.25,138.13 L146.75,134.71 L147.25,131.41 L147.75,127.82 L148.25,123.52 L148.75,117.45 L149.25,110.45 L149.75,104.47 L150.25,100.21 L150.75,96.58 L151.25,93.44 L151.75,90.68 L152.25,88.36 L152.75,86.17 L153.25,83.68 L153.75,81.18 L154.25,79.54 L154.75,79.80 L155.25,81.59 L155.75,84.23 L156.25,86.66 L156.75,88.96 L157.25,91.28 L157.75,93.69 L158.25,96.16 L158.75,98.80 L159.25,101.53 L159.75,105.41 L160.25,111.84 L160.75,120.26 L161.25,126.24 L161.75,129.58 L162.25,132.28 L162.75,135.24 L163.25,136.98 L163.75,136.65 L164.25,135.84 L164.75,135.01 L165.25,134.02 L165.75,133.00 L166.25,131.94 L166.75,130.48 L167.25,128.19 L167.75,125.79 L168.25,123.48 L168.75,121.88 L169.25,122.52 L169.75,124.24 L170.25,126.74 L170.75,129.43 L171.25,132.39 L171.75,135.66 L172.25,139.50 L172.75,143.61 L173.25,147.24 L173.75,150.82 L174.25,155.02 L174.75,159.75 L175.25,164.54 L175.75,169.10 L176.25,173.65 L176.75,178.48 L177.25,183.83 L177.75,189.19 L178.25,193.99 L178.75,197.75 L179.25,200.84 L179.75,203.60 L180.25,206.27 L180.75,208.84 L181.25,211.28 L181.75,213.71 L182.25,216.26 L182.75,219.03 L183.25,221.89 L183.75,224.68 L184.25,227.27 L184.75,229.74 L185.25,232.12 L185.75,234.43 L186.25,236.68 L186.75,239.01 L187.25,241.03 L187.75,242.44 L188.25,243.59 L188.75,244.58 L189.25,245.44 L189.75,246.23 L190.25,246.97 L190.75,247.66 L191.25,248.30 L191.75,248.88 L192.25,249.40 L192.75,249.86 L193.25,250.26 L193.75,250.62 L194.25,250.96 L194.75,251.27 L195.25,251.56 L195.75,251.83 L196.25,252.10 L196.75,252.36 L197.25,252.63 L197.75,252.89 L198.25,253.15 L198.75,253.41 L199.25,253.67 L199.75,253.91 L200.25,254.15 L200.75,254.37 L201.25,254.58 L201.75,254.78 L202.25,254.95 L202.75,255.11 L203.25,255.26 L203.75,255.41 L204.25,255.56 L204.75,255.70 L205.25,255.84 L205.75,255.97 L206.25,256.10 L206.75,256.23 L207.25,256.35 L207.75,256.46 L208.25,256.57 L208.75,256.67 L209.25,256.77 L209.75,256.86 L210.25,256.95 L210.75,257.03 L211.25,257.10 L211.75,257.17 L212.25,257.23 L212.75,257.29 L213.25,257.35 L213.75,257.40 L214.25,257.46 L214.75,257.51 L215.25,257.56 L215.75,257.60 L216.25,257.65 L216.75,257.68 L217.25,257.72 L217.75,257.75 L218.25,257.77 L218.75,257.79 L219.25,257.81 L219.75,257.82 L220.25,257.83 L220.75,257.85 L221.25,257.86 L221.75,257.87 L222.25,257.88 L222.75,257.90 L223.25,257.91 L223.75,257.92 L224.25,257.93 L224.75,257.94 L225.25,257.95 L225.75,257.96 L226.25,257.97 L226.75,257.98 L227.25,257.99 L227.75,258.00 L228.25,258.00 L228.75,258.01 L229.25,258.02 L229.75,258.03 L230.25,258.03 L230.75,258.04 L231.25,258.05 L231.75,258.05 L232.25,258.06 L232.75,258.06 L233.25,258.07 L233.75,258.07 L234.25,258.08 L234.75,258.08 L235.25,258.08 L235.75,258.09 L236.25,258.09 L236.75,258.09 L237.25,258.09 L237.75,258.10 L238.25,258.10 L238.75,258.10 L239.25,258.10 L239.75,258.10 L240.25,258.10 L240.75,258.10 L241.25,258.10 L241.75,258.10 L242.25,258.10 L242.75,258.10 L243.25,258.10 L243.75,258.10 L244.25,258.10 L244.75,258.10 L245.25,258.10 L245.75,258.10 L246.25,258.10 L246.75,258.10 L247.25,258.10 L247.75,258.10 L248.25,258.10 L248.75,258.10 L249.25,258.10 L249.75,258.10 L250.25,258.10 L250.75,258.10 L251.25,258.10 L251.75,258.10 L252.25,258.10 L252.75,258.10 L253.25,258.10 L253.75,258.10 L254.25,258.10 L254.75,258.10 L255.25,258.10 L255.75,258.10 L256.25,258.10 L256.75,258.10 L257.25,258.10 L257.75,258.10 L258.25,258.10 L258.75,258.10 L259.25,258.10 L259.75,258.10 L260.25,258.10 L260.75,258.10 L261.25,258.10 L261.75,258.10 L262.25,258.10 L262.75,258.10 L263.25,258.10 L263.75,258.10 L264.25,258.10 L264.75,258.10 L265.25,258.10 L265.75,258.10 L266.25,258.10 L266.75,258.10 L267.25,258.10 L267.75,258.10 L268.25,258.10 L268.75,258.10 L269.25,258.10 L269.75,258.10 L270.25,258.10 L270.75,258.10 L271.25,258.10 L271.75,258.10 L272.25,258.10 L272.75,258.10 L273.25,258.10 L273.75,258.10 L274.25,258.10 L274.75,258.10 L275.25,258.10 L275.75,258.10 L276.25,258.10 L276.75,258.10 L277.25,258.10 L277.75,258.10 L278.25,258.10 L278.75,258.10 L279.25,258.10 L279.75,258.10 L280.25,258.10 L280.75,258.10 L281.25,258.10 L281.75,258.10 L282.25,258.10 L282.75,258.10 L283.25,258.10 L283.75,258.10 L284.25,258.10 L284.75,258.10 L285.25,258.10 L285.75,258.10 L286.25,258.10 L286.75,258.10 L287.25,258.10 L287.75,258.10 L288.25,258.10 L288.75,258.10 L289.25,258.10 L289.75,258.10 L290.25,258.10 L290.75,258.10 L291.25,258.10 L291.75,258.10 L292.25,258.10 L292.75,258.10 L293.25,258.10 L293.75,258.10 L294.25,258.10 L294.75,258.10 L295.25,258.10 L295.75,258.10 L296.25,258.10 L296.75,258.10 L297.25,258.10 L297.75,258.10 L298.25,258.10 L298.75,258.10 L299.25,258.10 L299.75,258.10 L300.25,258.10 L300.75,258.10 L301.25,258.10 L301.75,258.10 L302.25,258.10 L302.75,258.10 L303.25,258.10 L303.75,258.10 L304.25,258.10 L304.75,258.10 L305.25,258.10 L305.75,258.10 L306.25,258.10 L306.75,258.10 L307.25,258.10 L307.75,258.10 L308.25,258.10 L308.75,258.10 L309.25,258.10 L309.75,258.10 L310.25,258.10 L310.75,258.10 L311.25,258.10 L311.75,258.10 L312.25,258.10 L312.75,258.10 L313.25,258.10 L313.75,258.10 L314.25,258.10 L314.75,258.10 L315.25,258.10 L315.75,258.10 L316.25,258.10 L316.75,258.10 L317.25,258.10 L317.75,258.10 L318.25,258.10 L318.75,258.10 L319.25,258.10 L319.75,258.10 L320.25,258.10 L320.75,258.10 L321.25,258.10 L321.75,258.10 L322.25,258.10 L322.75,258.10 L323.25,258.10 L323.75,258.10 L324.25,258.10 L324.75,258.10 L325.25,258.10 L325.75,258.10 L326.25,258.10 L326.75,258.10 L327.25,258.10 L327.75,258.10 L328.25,258.10 L328.75,258.10 L329.25,258.10 L329.75,258.10 L330.25,258.10 L330.75,258.10 L331.25,258.10 L331.75,258.10 L332.25,258.10 L332.75,258.10 L333.25,258.10 L333.75,258.10 L334.25,258.10 L334.75,258.10 L335.25,258.10 L335.75,258.10 L336.25,258.10 L336.75,258.10 L337.25,258.10 L337.75,258.10 L338.25,258.10 L338.75,258.10 L339.25,258.10 L339.75,258.10 L340.25,258.10 L340.75,258.10 L341.25,258.10 L341.75,258.10 L342.25,258.10 L342.75,258.10 L343.25,258.10 L343.75,258.10 L344.25,258.10 L344.75,258.10 L345.25,258.10 L345.75,258.10 L346.25,258.10 L346.75,258.10 L347.25,258.10 L347.75,258.10 L348.25,258.10 L348.75,258.10 L349.25,258.10 L349.75,258.10 L350.25,258.10 L350.75,258.10 L351.25,258.10 L351.75,258.10 L352.25,258.10 L352.75,258.10 L353.25,258.10 L353.75,258.10 L354.25,258.10 L354.75,258.10 L355.25,258.10 L355.75,258.10 L356.25,258.10 L356.75,258.10 L357.25,258.10 L357.75,258.10 L358.25,258.10 L358.75,258.10 L359.25,258.10 L359.75,258.10 L360.25,258.10 L360.75,258.10 L361.25,258.10 L361.75,258.10 L362.25,258.10 L362.75,258.10 L363.25,258.10 L363.75,258.10 L364.25,258.10 L364.75,258.10 L365.25,258.10 L365.75,258.10 L366.25,258.10 L366.75,258.10 L367.25,258.10 L367.75,258.10 L368.25,258.10 L368.75,258.10 L369.25,258.10 L369.75,258.10 L370.25,258.10 L370.75,258.10 L371.25,258.10 L371.75,258.10 L372.25,258.10 L372.75,258.09 L373.25,258.07 L373.75,258.04 L374.25,258.01 L374.75,257.96 L375.25,257.92 L375.75,257.87 L376.25,257.81 L376.75,257.75 L377.25,257.69 L377.75,257.63 L378.25,257.56 L378.75,257.47 L379.25,257.35 L379.75,257.23 L380.25,257.11 L380.75,257.00 L381.25,256.92 L381.75,256.88 L382.25,256.85 L382.75,256.82 L383.25,256.79 L383.75,256.77 L384.25,256.76 L384.75,256.75 L385.25,256.76 L385.75,256.81 L386.25,256.91 L386.75,257.03 L387.25,257.15 L387.75,257.26 L388.25,257.34 L388.75,257.43 L389.25,257.52 L389.75,257.60 L390.25,257.66 L390.75,257.70 L391.25,257.69 L391.75,257.62 L392.25,257.50 L392.75,257.35 L393.25,257.20 L393.75,257.08 L394.25,257.01 L394.75,257.00 L395.25,257.01 L395.75,257.02 L396.25,257.03 L396.75,257.05 L397.25,257.07 L397.75,257.09 L398.25,257.11 L398.75,257.14 L399.25,257.19 L399.75,257.24 L400.25,257.29 L400.75,257.36 L401.25,257.42 L401.75,257.50 L402.25,257.58 L402.40,257.60" stroke="#00ffff" stroke-dasharray="3.8 1.1 0.8 1.1" stroke-dashoffset="3.46"/>
<path d="M60.20,17.50 L60.70,29.07 L61.20,40.19 L61.70,51.09 L62.20,61.31 L62.70,70.47 L63.20,79.09 L63.70,87.22 L64.20,94.89 L64.70,102.12 L65.20,108.87 L65.70,115.19 L66.20,121.18 L66.70,127.04 L67.20,132.76 L67.70,138.25 L68.20,143.43 L68.70,148.22 L69.20,152.54 L69.70,156.52 L70.20,160.22 L70.70,163.74 L71.20,167.16 L71.70,170.55 L72.20,174.00 L72.70,177.59 L73.20,181.26 L73.70,184.90 L74.20,188.40 L74.70,191.63 L75.20,194.49 L75.70,196.95 L76.20,199.19 L76.70,201.27 L77.20,203.21 L77.70,205.05 L78.20,206.81 L78.70,208.54 L79.20,210.22 L79.70,211.82 L80.20,213.36 L80.70,214.86 L81.20,216.32 L81.70,217.74 L82.20,219.15 L82.70,220.56 L83.20,221.97 L83.70,223.41 L84.20,224.88 L84.70,226.34 L85.20,227.75 L85.70,229.09 L86.20,230.32 L86.70,231.42 L87.20,232.36 L87.70,233.23 L88.20,234.06 L88.70,234.84 L89.20,235.57 L89.70,236.27 L90.20,236.93 L90.70,237.54 L91.20,238.13 L91.70,238.68 L92.20,239.20 L92.70,239.69 L93.20,240.17 L93.70,240.62 L94.20,241.05 L94.70,241.47 L95.20,241.86 L95.70,242.24 L96.20,242.61 L96.70,242.96 L97.20,243.30 L97.70,243.62 L98.20,243.93 L98.70,244.23 L99.20,244.51 L99.70,244.79 L100.20,245.06 L100.70,245.32 L101.20,245.58 L101.70,245.82 L102.20,246.06 L102.70,246.29 L103.20,246.52 L103.70,246.74 L104.20,246.95 L104.70,247.15 L105.20,247.35 L105.70,247.55 L106.20,247.74 L106.70,247.92 L107.20,248.10 L107.70,248.27 L108.20,248.44 L108.70,248.61 L109.20,248.77 L109.70,248.93 L110.20,249.08 L110.70,249.23 L111.20,249.38 L111.70,249.52 L112.20,249.66 L112.70,249.80 L113.20,249.94 L113.70,250.07 L114.20,250.20 L114.70,250.33 L115.20,250.46 L115.70,250.58 L116.20,250.70 L116.70,250.83 L117.20,250.95 L117.70,251.07 L118.20,251.19 L118.70,251.31 L119.20,251.43 L119.70,251.55 L120.20,251.67 L120.70,251.79 L121.20,251.90 L121.70,252.02 L122.20,252.13 L122.70,252.24 L123.20,252.35 L123.70,252.45 L124.20,252.55 L124.70,252.65 L125.20,252.75 L125.70,252.84 L126.20,252.92 L126.70,253.01 L127.20,253.08 L127.70,253.16 L128.20,253.23 L128.70,253.29 L129.20,253.36 L129.70,253.42 L130.20,253.48 L130.70,253.54 L131.20,253.60 L131.70,253.66 L132.20,253.71 L132.70,253.77 L133.20,253.82 L133.70,253.87 L134.20,253.92 L134.70,253.97 L135.20,254.02 L135.70,254.06 L136.20,254.11 L136.70,254.15 L137.20,254.19 L137.70,254.23 L138.20,254.27 L138.70,254.31 L139.20,254.34 L139.70,254.38 L140.20,254.41 L140.70,254.45 L141.20,254.48 L141.70,254.51 L142.20,254.54 L142.70,254.57 L143.20,254.60 L143.70,254.63 L144.20,254.66 L144.70,254.69 L145.20,254.71 L145.70,254.74 L146.20,254.77 L146.70,254.79 L147.20,254.82 L147.70,254.84 L148.20,254.86 L148.70,254.89 L149.20,254.91 L149.70,254.93 L150.20,254.96 L150.70,254.98 L151.20,255.00 L151.70,255.02 L152.20,255.04 L152.70,255.06 L153.20,255.09 L153.70,255.11 L154.20,255.13 L154.70,255.15 L155.20,255.17 L155.70,255.19 L156.20,255.21 L156.70,255.23 L157.20,255.25 L157.70,255.27 L158.20,255.29 L158.70,255.31 L159.20,255.32 L159.70,255.34 L160.20,255.36 L160.70,255.38 L161.20,255.40 L161.70,255.41 L162.20,255.43 L162.70,255.45 L163.20,255.46 L163.70,255.48 L164.20,255.50 L164.70,255.51 L165.20,255.53 L165.70,255.55 L166.20,255.56 L166.70,255.58 L167.20,255.59 L167.70,255.61 L168.20,255.63 L168.70,255.64 L169.20,255.66 L169.70,255.67 L170.20,255.69 L170.70,255.70 L171.20,255.72 L171.70,255.73 L172.20,255.75 L172.70,255.76 L173.20,255.78 L173.70,255.80 L174.20,255.81 L174.70,255.83 L175.20,255.84 L175.70,255.86 L176.20,255.87 L176.70,255.89 L177.20,255.91 L177.70,255.92 L178.20,255.94 L178.70,255.96 L179.20,255.97 L179.70,255.99 L180.20,256.01 L180.70,256.02 L181.20,256.04 L181.70,256.06 L182.20,256.08 L182.70,256.10 L183.20,256.12 L183.70,256.14 L184.20,256.16 L184.70,256.18 L185.20,256.20 L185.70,256.22 L186.20,256.24 L186.70,256.26 L187.20,256.28 L187.70,256.30 L188.20,256.32 L188.70,256.34 L189.20,256.36 L189.70,256.38 L190.20,256.39 L190.70,256.41 L191.20,256.43 L191.70,256.45 L192.20,256.47 L192.70,256.49 L193.20,256.51 L193.70,256.52 L194.20,256.54 L194.70,256.56 L195.20,256.57 L195.70,256.59 L196.20,256.61 L196.70,256.62 L197.20,256.63 L197.70,256.65 L198.20,256.66 L198.70,256.67 L199.20,256.68 L199.70,256.69 L200.20,256.70 L200.70,256.71 L201.20,256.72 L201.70,256.73 L202.20,256.74 L202.70,256.75 L203.20,256.76 L203.70,256.77 L204.20,256.78 L204.70,256.79 L205.20,256.79 L205.70,256.80 L206.20,256.81 L206.70,256.82 L207.20,256.83 L207.70,256.83 L208.20,256.84 L208.70,256.85 L209.20,256.86 L209.70,256.87 L210.20,256.87 L210.70,256.88 L211.20,256.89 L211.70,256.89 L212.20,256.90 L212.70,256.91 L213.20,256.91 L213.70,256.92 L214.20,256.93 L214.70,256.93 L215.20,256.94 L215.70,256.95 L216.20,256.95 L216.70,256.96 L217.20,256.97 L217.70,256.97 L218.20,256.98 L218.70,256.98 L219.20,256.99 L219.70,257.00 L220.20,257.00 L220.70,257.01 L221.20,257.01 L221.70,257.02 L222.20,257.02 L222.70,257.03 L223.20,257.04 L223.70,257.04 L224.20,257.05 L224.70,257.05 L225.20,257.06 L225.70,257.06 L226.20,257.07 L226.70,257.07 L227.20,257.08 L227.70,257.08 L228.20,257.09 L228.70,257.09 L229.20,257.10 L229.70,257.10 L230.20,257.11 L230.70,257.11 L231.20,257.12 L231.70,257.12 L232.20,257.13 L232.70,257.13 L233.20,257.14 L233.70,257.14 L234.20,257.15 L234.70,257.15 L235.20,257.15 L235.70,257.16 L236.20,257.16 L236.70,257.17 L237.20,257.17 L237.70,257.18 L238.20,257.18 L238.70,257.19 L239.20,257.19 L239.70,257.20 L240.20,257.20 L240.70,257.21 L241.20,257.21 L241.70,257.22 L242.20,257.22 L242.70,257.23 L243.20,257.23 L243.70,257.24 L244.20,257.24 L244.70,257.25 L245.20,257.25 L245.70,257.26 L246.20,257.26 L246.70,257.27 L247.20,257.27 L247.70,257.28 L248.20,257.28 L248.70,257.29 L249.20,257.29 L249.70,257.30 L250.20,257.30 L250.70,257.31 L251.20,257.31 L251.70,257.32 L252.20,257.32 L252.70,257.33 L253.20,257.33 L253.70,257.34 L254.20,257.34 L254.70,257.35 L255.20,257.35 L255.70,257.36 L256.20,257.36 L256.70,257.37 L257.20,257.37 L257.70,257.38 L258.20,257.38 L258.70,257.39 L259.20,257.39 L259.70,257.40 L260.20,257.40 L260.70,257.41 L261.20,257.41 L261.70,257.42 L262.20,257.42 L262.70,257.43 L263.20,257.43 L263.70,257.44 L264.20,257.44 L264.70,257.45 L265.20,257.45 L265.70,257.46 L266.20,257.46 L266.70,257.47 L267.20,257.47 L267.70,257.48 L268.20,257.48 L268.70,257.48 L269.20,257.49 L269.70,257.49 L270.20,257.50 L270.70,257.50 L271.20,257.51 L271.70,257.51 L272.20,257.52 L272.70,257.52 L273.20,257.52 L273.70,257.53 L274.20,257.53 L274.70,257.54 L275.20,257.54 L275.70,257.54 L276.20,257.55 L276.70,257.55 L277.20,257.56 L277.70,257.56 L278.20,257.56 L278.70,257.57 L279.20,257.57 L279.70,257.57 L280.20,257.58 L280.70,257.58 L281.20,257.58 L281.70,257.59 L282.20,257.59 L282.70,257.59 L283.20,257.60 L283.70,257.60 L284.20,257.60 L284.70,257.60 L285.20,257.61 L285.70,257.61 L286.20,257.61 L286.70,257.62 L287.20,257.62 L287.70,257.62 L288.20,257.62 L288.70,257.62 L289.20,257.63 L289.70,257.63 L290.20,257.63 L290.70,257.63 L291.20,257.63 L291.70,257.64 L292.20,257.64 L292.70,257.64 L293.20,257.64 L293.70,257.64 L294.20,257.64 L294.70,257.64 L295.20,257.65 L295.70,257.65 L296.20,257.65 L296.70,257.65 L297.20,257.65 L297.70,257.65 L298.20,257.65 L298.70,257.65 L299.20,257.65 L299.70,257.65 L300.20,257.65 L300.70,257.65 L301.20,257.65 L301.70,257.65 L302.20,257.65 L302.70,257.65 L303.20,257.65 L303.70,257.65 L304.20,257.65 L304.70,257.65 L305.20,257.65 L305.70,257.65 L306.20,257.65 L306.70,257.65 L307.20,257.65 L307.70,257.65 L308.20,257.65 L308.70,257.65 L309.20,257.65 L309.70,257.65 L310.20,257.65 L310.70,257.65 L311.20,257.65 L311.70,257.65 L312.20,257.65 L312.70,257.65 L313.20,257.65 L313.70,257.65 L314.20,257.65 L314.70,257.65 L315.20,257.65 L315.70,257.65 L316.20,257.65 L316.70,257.65 L317.20,257.65 L317.70,257.65 L318.20,257.65 L318.70,257.65 L319.20,257.65 L319.70,257.65 L320.20,257.65 L320.70,257.65 L321.20,257.65 L321.70,257.65 L322.20,257.65 L322.70,257.65 L323.20,257.65 L323.70,257.65 L324.20,257.65 L324.70,257.65 L325.20,257.65 L325.70,257.65 L326.20,257.65 L326.70,257.65 L327.20,257.65 L327.70,257.65 L328.20,257.65 L328.70,257.65 L329.20,257.65 L329.70,257.65 L330.20,257.65 L330.70,257.65 L331.20,257.65 L331.70,257.65 L332.20,257.65 L332.70,257.65 L333.20,257.65 L333.70,257.65 L334.20,257.65 L334.70,257.65 L335.20,257.65 L335.70,257.65 L336.20,257.65 L336.70,257.65 L337.20,257.65 L337.70,257.65 L338.20,257.65 L338.70,257.65 L339.20,257.65 L339.70,257.65 L340.20,257.65 L340.70,257.65 L341.20,257.65 L341.70,257.65 L342.20,257.65 L342.70,257.65 L343.20,257.65 L343.70,257.65 L344.20,257.65 L344.70,257.65 L345.20,257.65 L345.70,257.65 L346.20,257.65 L346.70,257.65 L347.20,257.65 L347.70,257.65 L348.20,257.65 L348.70,257.65 L349.20,257.65 L349.70,257.65 L350.20,257.65 L350.70,257.65 L351.20,257.65 L351.70,257.65 L352.20,257.65 L352.70,257.65 L353.20,257.65 L353.70,257.65 L354.20,257.65 L354.70,257.65 L355.20,257.65 L355.70,257.65 L356.20,257.65 L356.70,257.65 L357.20,257.65 L357.70,257.65 L358.20,257.65 L358.70,257.65 L359.20,257.65 L359.70,257.65 L360.20,257.65 L360.70,257.65 L361.20,257.65 L361.70,257.65 L362.20,257.65 L362.70,257.65 L363.20,257.65 L363.70,257.65 L364.20,257.65 L364.70,257.65 L365.20,257.65 L365.70,257.65 L366.20,257.65 L366.70,257.65 L367.20,257.65 L367.70,257.65 L368.20,257.65 L368.70,257.65 L369.20,257.65 L369.70,257.65 L370.20,257.65 L370.70,257.65 L371.20,257.65 L371.70,257.65 L372.20,257.65 L372.70,257.65 L373.20,257.65 L373.70,257.65 L374.20,257.65 L374.70,257.65 L375.20,257.65 L375.70,257.65 L376.20,257.65 L376.70,257.65 L377.20,257.65 L377.70,257.65 L378.20,257.65 L378.70,257.65 L379.20,257.65 L379.70,257.65 L380.20,257.65 L380.70,257.65 L381.20,257.65 L381.70,257.65 L382.20,257.65 L382.70,257.65 L383.20,257.65 L383.70,257.65 L384.20,257.65 L384.70,257.65 L385.20,257.65 L385.70,257.65 L386.20,257.65 L386.70,257.65 L387.20,257.65 L387.70,257.65 L388.20,257.65 L388.70,257.65 L389.20,257.65 L389.70,257.65 L390.20,257.65 L390.70,257.65 L391.20,257.65 L391.70,257.65 L392.20,257.65 L392.70,257.65 L393.20,257.65 L393.70,257.65 L394.20,257.65 L394.70,257.65 L395.20,257.65 L395.70,257.65 L396.20,257.65 L396.70,257.65 L397.20,257.65 L397.70,257.65 L398.20,257.65 L398.70,257.65 L399.20,257.65 L399.70,257.65 L400.20,257.65 L400.70,257.65 L401.20,257.65 L401.70,257.65 L402.20,257.65 L402.40,257.65" stroke="#00ff00" stroke-dasharray="2.6 1.0"/>
</g>
<path d="M346.0,28.45H384.9" stroke="#ff0000" stroke-width="2" fill="none"/>
<path d="M346.0,42.95H384.9" stroke="#0000ff" stroke-width="2" fill="none" stroke-dasharray="1.5 1.6"/>
<path d="M346.0,57.55H384.9" stroke="#ff00ff" stroke-width="2" fill="none" stroke-dasharray="1.35 1.55"/>
<path d="M346.0,72.1H384.9" stroke="#00ffff" stroke-width="2" fill="none" stroke-dasharray="3.8 1.1 0.8 1.1"/>
<path d="M346.0,86.5H384.9" stroke="#00ff00" stroke-width="2" fill="none" stroke-dasharray="2.6 1.0"/>
<rect x="53.75" y="17.5" width="348.65" height="240.80" fill="none" stroke="#000" stroke-width="1"/>
<g font-family="'Liberation Sans', sans-serif" font-size="14.6" fill="#000" text-rendering="geometricPrecision">
<text transform="translate(337.60,33.70) scale(1,1.08)" text-anchor="end">A</text>
<text transform="translate(337.60,47.60) scale(1,1.08)" text-anchor="end">B</text>
<text transform="translate(337.60,63.00) scale(1,1.08)" text-anchor="end">C</text>
<text transform="translate(337.60,76.90) scale(1,1.08)" text-anchor="end">D</text>
<text transform="translate(337.60,92.20) scale(1,1.08)" text-anchor="end">no osc</text>
<text transform="translate(45.20,263.50) scale(1,1.08)" text-anchor="end">0</text>
<text transform="translate(45.20,233.40) scale(1,1.08)" text-anchor="end">1</text>
<text transform="translate(45.20,203.30) scale(1,1.08)" text-anchor="end">2</text>
<text transform="translate(45.20,173.20) scale(1,1.08)" text-anchor="end">3</text>
<text transform="translate(45.20,143.10) scale(1,1.08)" text-anchor="end">4</text>
<text transform="translate(45.20,113.00) scale(1,1.08)" text-anchor="end">5</text>
<text transform="translate(45.20,82.90) scale(1,1.08)" text-anchor="end">6</text>
<text transform="translate(45.20,52.80) scale(1,1.08)" text-anchor="end">7</text>
<text transform="translate(45.20,22.70) scale(1,1.08)" text-anchor="end">8</text>
<text transform="translate(55.85,278.20) scale(1,1.08)" text-anchor="middle">20</text>
<text transform="translate(94.59,278.20) scale(1,1.08)" text-anchor="middle">40</text>
<text transform="translate(133.33,278.20) scale(1,1.08)" text-anchor="middle">60</text>
<text transform="translate(172.07,278.20) scale(1,1.08)" text-anchor="middle">80</text>
<text transform="translate(210.81,278.20) scale(1,1.08)" text-anchor="middle">100</text>
<text transform="translate(249.54,278.20) scale(1,1.08)" text-anchor="middle">120</text>
<text transform="translate(288.28,278.20) scale(1,1.08)" text-anchor="middle">140</text>
<text transform="translate(327.02,278.20) scale(1,1.08)" text-anchor="middle">160</text>
<text transform="translate(365.76,278.20) scale(1,1.08)" text-anchor="middle">180</text>
<text transform="translate(404.50,278.20) scale(1,1.08)" text-anchor="middle">200</text>
<text transform="translate(228.50,299.40) scale(1,1.08)" text-anchor="middle">k</text>
<text transform="translate(16.2,137.8) rotate(-90) scale(0.975,1)" font-size="15" text-anchor="middle">P(k)</text>
</g>
</svg>
</body></html>
